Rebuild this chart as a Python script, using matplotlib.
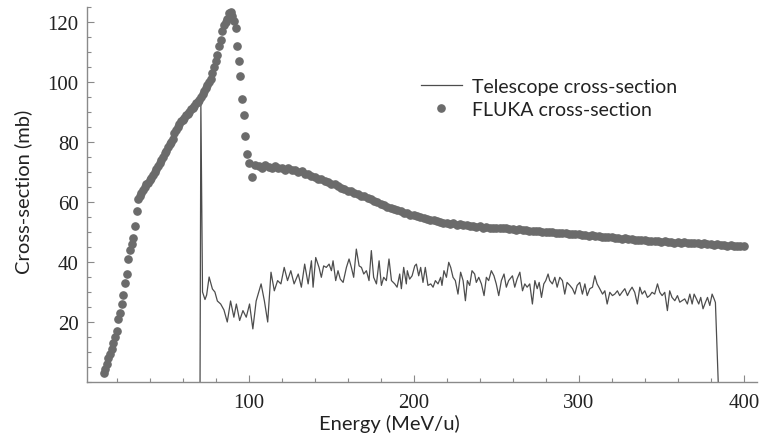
import numpy as np
import matplotlib
matplotlib.use("Agg")
import matplotlib.pyplot as plt
from matplotlib.ticker import MultipleLocator

# FLUKA cross-section: rising part (1 MeV/u steps) then tail (2 MeV/u steps)
fluka_e_low = list(range(12, 100))
fluka_xs_low = [3, 4.5, 6, 8, 9.5, 11, 13, 15, 17, 21,
                23, 26, 29, 33, 36, 41, 44, 46, 48, 52,
                57, 61, 62, 63, 64, 65, 66, 66.5, 67.5, 68,
                69, 70, 71, 72, 73, 74, 75, 76.5, 77, 78.5,
                79.5, 80, 81, 83, 84, 85, 86, 87, 87.5, 88,
                89, 89.5, 90, 91, 91.5, 92, 93, 93.5, 94, 95,
                96, 97, 98, 99, 100, 101, 103, 105, 107, 109,
                112, 114, 117, 119, 120, 121, 123, 123.5, 122, 120.5,
                118, 112, 107, 102, 94.5, 89, 82, 76]
fluka_e_high = list(range(100, 401, 2))
fluka_xs_high = [73.0, 68.5, 72.5, 72.0, 71.5, 72.3, 71.8, 71.5, 71.9, 71.2,
                 71.5, 70.8, 71.2, 70.6, 70.8, 70.0, 70.3, 69.5, 69.3, 68.6,
                 68.5, 67.8, 67.6, 67.0, 66.8, 66.0, 65.9, 65.2, 64.8, 64.5,
                 63.8, 63.6, 62.9, 62.8, 62.1, 62.0, 61.3, 61.0, 60.3, 60.0,
                 59.4, 59.1, 58.4, 58.0, 57.7, 57.2, 57.0, 56.5, 56.3, 55.8,
                 55.7, 55.2, 55.0, 54.6, 54.5, 54.1, 54.0, 53.6, 53.5, 53.1,
                 53.0, 52.8, 52.9, 52.5, 52.6, 52.2, 52.3, 52.0, 52.1, 51.7,
                 51.9, 51.5, 51.6, 51.3, 51.5, 51.4, 51.5, 51.2, 51.3, 51.0,
                 51.1, 50.8, 50.9, 50.6, 50.7, 50.4, 50.5, 50.2, 50.3, 50.0,
                 50.1, 49.9, 50.0, 49.7, 49.8, 49.6, 49.7, 49.4, 49.5, 49.2,
                 49.3, 49.0, 49.1, 48.8, 48.9, 48.6, 48.7, 48.4, 48.5, 48.2,
                 48.3, 48.0, 48.1, 47.8, 47.9, 47.6, 47.7, 47.4, 47.5, 47.2,
                 47.3, 47.0, 47.1, 46.9, 47.0, 46.8, 46.9, 46.6, 46.8, 46.5,
                 46.7, 46.4, 46.6, 46.3, 46.5, 46.2, 46.4, 46.1, 46.2, 45.9,
                 46.1, 45.8, 45.9, 45.6, 45.8, 45.5, 45.6, 45.3, 45.5, 45.2,
                 45.4]
fluka_e = fluka_e_low + fluka_e_high
fluka_xs = fluka_xs_low + fluka_xs_high

# Telescope cross-section
tel_e = [70.5, 71.0, 72.0, 73.5, 74.5, 76.0, 78.0, 79.5, 81.0, 83.0,
         85.0, 87.0, 89.0, 91.0, 92.5, 94.5, 96.5, 98.5, 100.5, 102.5,
         104.5, 107.5, 109.5, 111.5, 113.5, 115.5, 117.5, 119.5, 121.5, 123.5,
         125.5, 127.5, 130.0, 131.9, 133.9, 136.0, 138.0, 139.0, 140.6, 142.6,
         144.0, 145.4, 147.0, 148.7, 150.1, 151.1, 152.7, 154.1, 155.5, 157.2,
         159.2, 160.8, 162.2, 163.6, 165.2, 166.9, 168.3, 169.7, 171.3, 172.9,
         174.3, 175.7, 177.4, 179.0, 180.4, 181.8, 183.4, 185.0, 186.5, 188.5,
         189.9, 191.5, 192.5, 193.9, 195.5, 196.1, 197.5, 199.0, 200.6, 201.6,
         203.0, 204.2, 205.6, 207.0, 208.6, 210.3, 211.7, 213.1, 214.7, 216.3,
         217.1, 218.3, 219.8, 221.2, 222.4, 223.8, 225.2, 226.8, 228.4, 229.9,
         231.3, 232.5, 233.9, 235.3, 236.9, 237.9, 239.4, 241.0, 242.6, 244.0,
         245.4, 247.0, 248.6, 250.0, 251.5, 253.1, 254.7, 256.1, 257.5, 259.8,
         261.2, 262.6, 264.3, 265.9, 267.3, 268.7, 270.3, 271.9, 273.4, 274.8,
         276.0, 277.4, 278.8, 280.0, 281.4, 282.4, 284.0, 285.5, 286.9, 288.5,
         290.1, 291.5, 292.9, 294.6, 296.2, 297.6, 299.0, 300.6, 302.2, 303.7,
         305.1, 306.7, 308.3, 309.7, 311.1, 312.7, 314.4, 315.8, 317.2, 318.8,
         320.4, 321.8, 323.4, 324.8, 326.2, 327.9, 329.5, 330.9, 332.3, 333.9,
         335.5, 337.0, 338.4, 340.0, 341.6, 343.0, 344.4, 346.0, 347.7, 349.1,
         350.5, 352.1, 353.7, 355.1, 356.5, 358.2, 359.8, 361.2, 362.6, 364.2,
         365.8, 367.3, 368.7, 369.9, 371.3, 372.7, 373.9, 375.3, 376.8, 378.0,
         379.4, 380.8, 382.0, 382.8, 384.5]
tel_xs = [0, 93, 30, 27.5, 29, 35, 31, 30, 27, 26,
          24, 20, 27, 21.6, 26, 20.5, 23.8, 21.6, 26, 17.7,
          27, 32.7, 27, 20, 36.6, 30.4, 33.8, 32.7, 38.2, 33.8,
          37.1, 32.7, 36, 31.6, 39.3, 32.7, 40.4, 31.6, 41.5, 38.2,
          34.9, 38.7, 38.2, 39.3, 37.1, 40.4, 33.8, 37.1, 34.3, 33.2,
          38.2, 41, 38.2, 34.9, 44.3, 38.7, 38.2, 36, 37.1, 33.8,
          43.8, 34.9, 32.7, 40.4, 32.2, 34.9, 33.8, 41, 33.8, 32.7,
          31.6, 36, 31.1, 38.2, 32.7, 37.1, 34.3, 35.4, 38.7, 39.3,
          35.4, 38.2, 33.2, 38.2, 32.2, 32.7, 31.6, 33.8, 32.7, 34.9,
          32.2, 37.1, 34.9, 39.9, 38.2, 34.9, 33.8, 29.3, 36.6, 33.8,
          27.1, 33.8, 32.2, 37.1, 36, 33.2, 34.9, 32.7, 28.8, 34.9,
          33.8, 37.1, 35.4, 32.7, 28.8, 33.8, 36, 31.6, 33.8, 35.4,
          31.6, 34.3, 36.6, 30.4, 32.7, 31.6, 32.7, 26, 33.8, 31.1,
          33.2, 28.2, 32.7, 33.8, 36, 33.8, 32.7, 34.9, 31.6, 34.9,
          33.8, 29.3, 33.2, 32.2, 31.1, 29.3, 32.2, 33.2, 29.3, 32.7,
          28.8, 31.1, 31.6, 35.4, 32.7, 31.1, 29.3, 30.4, 26, 29.9,
          28.8, 29.3, 30.4, 28.8, 29.9, 31.1, 28.8, 30.4, 31.6, 29.9,
          26, 31.6, 29.3, 30.4, 28.2, 28.8, 29.9, 29.3, 32.7, 29.9,
          28.8, 29.9, 23.8, 30.4, 28.2, 27.1, 28.8, 26.6, 27.1, 27.7,
          26, 29.3, 26, 29.3, 27.7, 26, 28.2, 24.4, 26.6, 28.2,
          25.5, 29.3, 27.7, 26.5, 0]

fig = plt.figure(figsize=(7.63, 4.39), dpi=100)
ax = fig.add_axes([87 / 763, 56 / 439, 670 / 763, 375 / 439])

ax.plot(tel_e, tel_xs, color="#4d4d4d", lw=0.9, label="Telescope cross-section", zorder=2)
ax.plot(fluka_e, fluka_xs, ls="none", marker="o", ms=5.2, color="#6b6b6b",
        mec="#6b6b6b", label="FLUKA cross-section", zorder=3)

ax.set_xlim(2, 408)
ax.set_ylim(0, 125)
ax.xaxis.set_minor_locator(MultipleLocator(20))
ax.yaxis.set_minor_locator(MultipleLocator(5))
ax.set_xticks([100, 200, 300, 400])
ax.set_yticks([20, 40, 60, 80, 100, 120])

for side in ("top", "right"):
    ax.spines[side].set_visible(False)
for side in ("left", "bottom"):
    ax.spines[side].set_color("#8a8a8a")
    ax.spines[side].set_linewidth(1.0)

ax.tick_params(which="both", direction="in", color="#8a8a8a", width=0.8)
ax.tick_params(which="major", length=5)
ax.tick_params(which="minor", length=3)
ax.tick_params(axis="x", pad=8)
ax.tick_params(axis="y", pad=6)
for lab in ax.get_xticklabels() + ax.get_yticklabels():
    lab.set_fontfamily("Liberation Serif")
    lab.set_fontsize(15)
    lab.set_color("#222222")

ax.set_xlabel("Energy (MeV/u)", family="Lato", fontsize=14.5, color="#222222")
ax.set_ylabel("Cross-section (mb)", family="Lato", fontsize=14.5, color="#222222")
ax.xaxis.set_label_coords(0.452, -0.085)
ax.yaxis.set_label_coords(-0.082, 0.509)

ax.legend(loc="upper left", bbox_to_anchor=(421 / 763, 1 - 79 / 439),
          bbox_transform=fig.transFigure, frameon=False, borderpad=0,
          borderaxespad=0, handlelength=2.1, handletextpad=0.5,
          labelspacing=0.3, prop={"family": "Lato", "size": 14},
          labelcolor="#222222")

fig.savefig("out.png", dpi=100)
